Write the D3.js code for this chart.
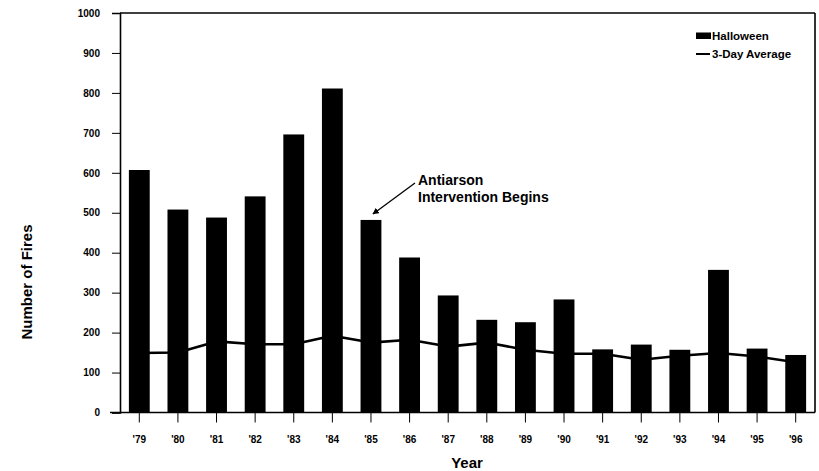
<!DOCTYPE html>
<html>
<head>
<meta charset="utf-8">
<script src="https://cdn.jsdelivr.net/npm/d3@7"></script>
<style>
body { margin: 0; background: #fff; }
text { font-family: Arial, "Liberation Sans", sans-serif; }
</style>
</head>
<body>
<script>
var years = ["'79", "'80", "'81", "'82", "'83", "'84", "'85", "'86", "'87", "'88", "'89", "'90", "'91", "'92", "'93", "'94", "'95", "'96"];
var halloween = [607, 508, 488, 541, 696, 811, 482, 388, 293, 232, 226, 283, 158, 170, 157, 357, 160, 144];
var threeDayAvg = [149, 150, 178, 171, 171, 192, 175, 182, 165, 175, 157, 147, 147, 132, 142, 149, 140, 126];
var yTicks = [0, 100, 200, 300, 400, 500, 600, 700, 800, 900, 1000];

async function main(){

	var w = 819;
	var h = 471;
	var left = 120, right = 815, top = 13, bottom = 412.5;

	var svg = d3.select("body")
				.append("svg")
				.attr("width", w)
				.attr("height", h);

	var x = d3.scaleBand()
		.domain(years)
		.range([left, right])
		.paddingInner(0.46)
		.paddingOuter(0.23);

	var y = d3.scaleLinear()
		.domain([0, 1000])
		.range([bottom, top]);

	// bars
	svg.selectAll(".bar")
		.data(halloween)
		.enter()
		.append("rect")
		.attr("class", "bar")
		.attr("x", function(d, i){ return x(years[i]); })
		.attr("width", x.bandwidth())
		.attr("y", function(d){ return y(d); })
		.attr("height", function(d){ return y(0) - y(d); })
		.attr("fill", "#000");

	// 3-day average line
	var line = d3.line()
		.x(function(d, i){ return x(years[i]) + x.bandwidth() / 2; })
		.y(function(d){ return y(d); });

	svg.append("path")
		.datum(threeDayAvg)
		.attr("d", line)
		.attr("fill", "none")
		.attr("stroke", "#000")
		.attr("stroke-width", 2.6)
		.attr("stroke-linejoin", "round");

	// y axis
	var yAxis = svg.append("g")
		.attr("transform", "translate(" + left + ",0)")
		.call(d3.axisLeft(y).tickValues(yTicks).tickFormat(d3.format("d")).tickSize(8).tickPadding(12));
	yAxis.select(".domain").attr("stroke-width", 1.6);
	yAxis.selectAll(".tick line").attr("stroke-width", 1);
	yAxis.selectAll("text")
		.attr("font-size", 10)
		.attr("font-weight", "bold")
		.attr("fill", "#000");

	// x axis
	var xAxis = svg.append("g")
		.attr("transform", "translate(0," + bottom + ")")
		.call(d3.axisBottom(x).tickSize(10).tickSizeOuter(0).tickPadding(13));
	xAxis.select(".domain").remove();
	xAxis.selectAll(".tick line").attr("stroke-width", 1);
	xAxis.selectAll("text")
		.attr("font-size", 10)
		.attr("font-weight", "bold")
		.attr("fill", "#000");

	// frame
	svg.append("line")
		.attr("x1", left - 10).attr("x2", right)
		.attr("y1", bottom).attr("y2", bottom)
		.attr("stroke", "#000").attr("stroke-width", 1.6);
	svg.append("line")
		.attr("x1", left).attr("x2", right)
		.attr("y1", top).attr("y2", top)
		.attr("stroke", "#000").attr("stroke-width", 1.6);
	svg.append("line")
		.attr("x1", right).attr("x2", right)
		.attr("y1", top).attr("y2", bottom)
		.attr("stroke", "#000").attr("stroke-width", 1.6);

	// axis titles
	svg.append("text")
		.text("Number of Fires")
		.attr("transform", "translate(32,282) rotate(-90)")
		.attr("text-anchor", "middle")
		.attr("font-size", 15)
		.attr("font-weight", "bold");

	svg.append("text")
		.text("Year")
		.attr("x", 467)
		.attr("y", 468)
		.attr("text-anchor", "middle")
		.attr("font-size", 15)
		.attr("font-weight", "bold");

	// legend
	svg.append("rect")
		.attr("x", 696).attr("y", 32.5)
		.attr("width", 15).attr("height", 6.5)
		.attr("fill", "#000");
	svg.append("text")
		.text("Halloween")
		.attr("x", 712).attr("y", 40)
		.attr("font-size", 11.5)
		.attr("font-weight", "bold");
	svg.append("line")
		.attr("x1", 696).attr("x2", 710)
		.attr("y1", 54).attr("y2", 54)
		.attr("stroke", "#000").attr("stroke-width", 2);
	svg.append("text")
		.text("3-Day Average")
		.attr("x", 712).attr("y", 58)
		.attr("font-size", 11.5)
		.attr("font-weight", "bold");

	// annotation
	svg.append("defs").append("marker")
		.attr("id", "arrow")
		.attr("viewBox", "0 0 10 10")
		.attr("refX", 9).attr("refY", 5)
		.attr("markerWidth", 5).attr("markerHeight", 5)
		.attr("orient", "auto")
		.append("path")
		.attr("d", "M0,0 L10,5 L0,10 z")
		.attr("fill", "#000");

	svg.append("line")
		.attr("x1", 415).attr("y1", 183)
		.attr("x2", x("'85") + x.bandwidth() / 2 + 2).attr("y2", y(halloween[6]) - 6)
		.attr("stroke", "#000")
		.attr("stroke-width", 1.3)
		.attr("marker-end", "url(#arrow)");

	svg.append("text")
		.text("Antiarson")
		.attr("x", 418).attr("y", 185)
		.attr("font-size", 14)
		.attr("font-weight", "bold");
	svg.append("text")
		.text("Intervention Begins")
		.attr("x", 418).attr("y", 202)
		.attr("font-size", 14)
		.attr("font-weight", "bold");
};

main();
</script>
</body>
</html>
